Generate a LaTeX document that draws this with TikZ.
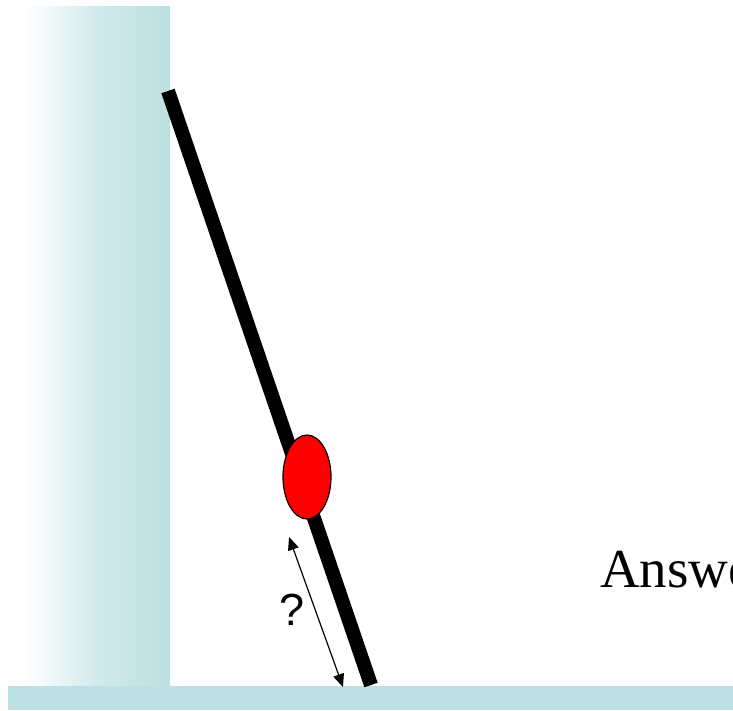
\documentclass[tikz,border=0pt]{standalone}
\usepackage{fontspec}
\setmainfont{Liberation Serif}
\newfontfamily\arialfont{Liberation Sans}
\usetikzlibrary{arrows.meta,shapes.geometric}
\definecolor{wallteal}{HTML}{BDE0E3}
\tikzset{
  ladderline/.style={line width=14pt, line cap=butt, black},
  massnode/.style={ellipse, draw=black, line width=1.2pt, fill=red, minimum width=48pt, minimum height=84pt, inner sep=0pt},
  dimarrow/.style={line width=1.2pt, {Triangle[length=13pt,width=11pt]}-{Triangle[length=13pt,width=11pt]}},
}
\begin{document}
\begin{tikzpicture}[x=1pt,y=-1pt]
\useasboundingbox (0,0) rectangle (733,710);
\clip (0,0) rectangle (733,710);
% wall
\shade[left color=white, right color=wallteal, middle color=wallteal!70] (26,6) rectangle (170,687);
% floor
\fill[wallteal] (8,686) rectangle (733,710);
% ladder
\coordinate (ltop) at (168,91);
\coordinate (lbot) at (371,685);
\draw[ladderline] (ltop) -- (lbot);
% mass
\node[massnode] (mass) at (307,477) {};
% dimension arrow
\coordinate (atop) at (289,537);
\coordinate (abot) at (343,687);
\draw[dimarrow] (atop) -- (abot);
\node[font=\arialfont\fontsize{45}{50}\selectfont] (q) at (292,610) {?};
% answer text
\node[anchor=base west, inner sep=0pt, font=\fontsize{55}{60}\selectfont] (ans) at (600,587) {Answer};
\end{tikzpicture}
\end{document}
